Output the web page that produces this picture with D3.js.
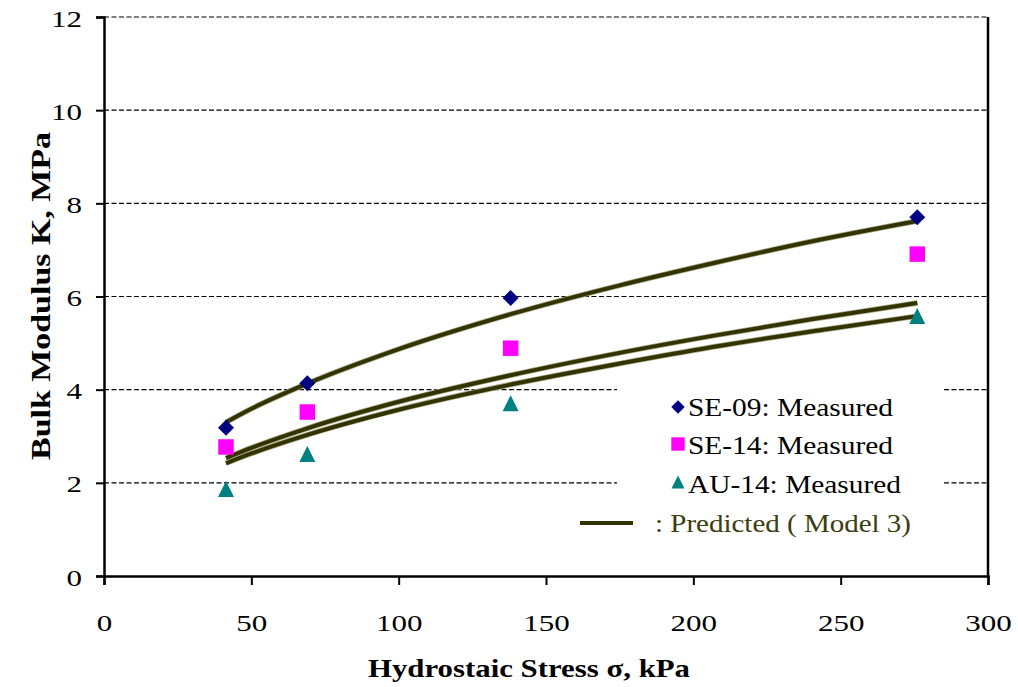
<!DOCTYPE html>
<html>
<head>
<meta charset="utf-8">
<script src="https://cdn.jsdelivr.net/npm/d3@7"></script>
<style>
  html, body { margin: 0; padding: 0; background: #fff; }
  svg { display: block; }
</style>
</head>
<body>
<script>
// Hydrostatic stress (kPa) at which the samples were tested
const stress = [41.4, 69, 138, 276];

// Measured bulk modulus K (MPa)
const se09 = [3.18, 4.14, 5.97, 7.70];
const se14 = [2.77, 3.52, 4.89, 6.91];
const au14 = [1.87, 2.62, 3.71, 5.58];

// Predicted (Model 3) curves
const predStress = [41.4, 50, 69, 100, 138, 175, 207, 240, 276];
const predSE09 = [3.30, 3.59, 4.13, 4.87, 5.62, 6.24, 6.72, 7.18, 7.62];
const predSE14 = [2.53, 2.75, 3.17, 3.74, 4.31, 4.79, 5.16, 5.51, 5.86];
const predAU14 = [2.42, 2.63, 3.03, 3.57, 4.11, 4.56, 4.92, 5.25, 5.58];

const xTicks = [0, 50, 100, 150, 200, 250, 300];
const yTicks = [0, 2, 4, 6, 8, 10, 12];

const legendLabels = ['SE-09: Measured', 'SE-14: Measured', 'AU-14: Measured'];
const predLabel = ': Predicted ( Model 3)';

const FONT = '"Liberation Serif", "Times New Roman", Tinos, serif';

const width = 1018, height = 687;
const margin = { left: 104, right: 30, top: 17, bottom: 111 };

const svg = d3.select('body').append('svg')
  .attr('width', width)
  .attr('height', height)
  .style('font-family', FONT);

const x = d3.scaleLinear().domain([0, 300]).range([margin.left, width - margin.right]);
const y = d3.scaleLinear().domain([0, 12]).range([height - margin.bottom, margin.top]);

// dashed grid lines
svg.append('g')
  .selectAll('line')
  .data(yTicks.filter(d => d > 0))
  .enter()
  .append('line')
  .attr('x1', x(0))
  .attr('x2', x(300))
  .attr('y1', d => y(d))
  .attr('y2', d => y(d))
  .attr('stroke', '#000')
  .attr('stroke-width', 1.2)
  .attr('stroke-dasharray', '5,2.5');

// right border
svg.append('line')
  .attr('x1', x(300)).attr('x2', x(300))
  .attr('y1', y(12)).attr('y2', y(0))
  .attr('stroke', '#000')
  .attr('stroke-width', 2.5);

// legend background (hides the grid behind it)
svg.append('rect')
  .attr('x', 617).attr('y', 376)
  .attr('width', 326).attr('height', 165)
  .attr('fill', '#fff');

// axes
const xAxis = d3.axisBottom(x).tickValues(xTicks).tickSize(9).tickPadding(29)
  .tickFormat(d3.format('d'));
const yAxis = d3.axisLeft(y).tickValues(yTicks).tickSize(8).tickPadding(14)
  .tickFormat(d3.format('d'));

const gx = svg.append('g')
  .attr('transform', `translate(0,${y(0)})`)
  .call(xAxis);
const gy = svg.append('g')
  .attr('transform', `translate(${x(0)},0)`)
  .call(yAxis);

[gx, gy].forEach(g => {
  g.attr('font-family', FONT);
  g.select('.domain').attr('stroke', '#000').attr('stroke-width', 2.5);
  g.selectAll('.tick line').attr('stroke', '#000').attr('stroke-width', 2);
  g.selectAll('.tick text')
    .attr('fill', '#000')
    .attr('font-size', 24)
    .attr('textLength', d => String(d).length * 15.5)
    .attr('lengthAdjust', 'spacingAndGlyphs');
});
gy.selectAll('.tick text').attr('dy', '0.38em');

// predicted curves
const line = d3.line()
  .x(d => x(d[0]))
  .y(d => y(d[1]))
  .curve(d3.curveMonotoneX);

[predSE09, predSE14, predAU14].forEach(vals => {
  const pts = predStress.map((s, i) => [s, vals[i]]);
  svg.append('path')
    .attr('d', line(pts))
    .attr('fill', 'none')
    .attr('stroke', '#a8a888')
    .attr('stroke-width', 5.5);
  svg.append('path')
    .attr('d', line(pts))
    .attr('fill', 'none')
    .attr('stroke', '#333300')
    .attr('stroke-width', 4);
});

// custom triangle (as wide as tall)
const tallTriangle = {
  draw(ctx, size) {
    const s = Math.sqrt(size);
    ctx.moveTo(0, -s / 2);
    ctx.lineTo(s / 2, s / 2);
    ctx.lineTo(-s / 2, s / 2);
    ctx.closePath();
  }
};

const series = [
  { vals: se09, color: '#000080', type: d3.symbolSquare, rot: 45, size: 128, lsize: 90 },
  { vals: se14, color: '#ff00ff', type: d3.symbolSquare, rot: 0, size: 240, lsize: 180 },
  { vals: au14, color: '#008080', type: tallTriangle, rot: 0, size: 256, lsize: 169 }
];

series.forEach(s => {
  svg.append('g')
    .selectAll('path')
    .data(stress.map((st, i) => [st, s.vals[i]]))
    .enter()
    .append('path')
    .attr('d', d3.symbol().type(s.type).size(s.size))
    .attr('transform', d => `translate(${x(d[0])},${y(d[1])}) rotate(${s.rot})`)
    .attr('fill', s.color);
});

// legend
const legendY = [407, 444, 482];
const textBase = [416, 454, 493];
const textW = [205, 205, 213];
series.forEach((s, i) => {
  svg.append('path')
    .attr('d', d3.symbol().type(s.type).size(s.lsize))
    .attr('transform', `translate(678,${legendY[i]}) rotate(${s.rot})`)
    .attr('fill', s.color);
  svg.append('text')
    .attr('x', 688)
    .attr('y', textBase[i])
    .attr('textLength', textW[i])
    .attr('lengthAdjust', 'spacingAndGlyphs')
    .attr('font-size', 26)
    .attr('fill', '#000')
    .text(legendLabels[i]);
});
svg.append('line')
  .attr('x1', 580).attr('x2', 633)
  .attr('y1', 523).attr('y2', 523)
  .attr('stroke', '#333300')
  .attr('stroke-width', 4);
svg.append('text')
  .attr('x', 655)
  .attr('y', 532)
  .attr('textLength', 256)
  .attr('lengthAdjust', 'spacingAndGlyphs')
  .attr('font-size', 26)
  .attr('fill', '#3d3d10')
  .text(predLabel);

// axis titles
svg.append('text')
  .attr('x', 368)
  .attr('y', 677)
  .attr('textLength', 322)
  .attr('lengthAdjust', 'spacingAndGlyphs')
  .attr('font-size', 26)
  .attr('font-weight', 'bold')
  .attr('fill', '#000')
  .text('Hydrostaic Stress  σ,  kPa');

svg.append('text')
  .attr('transform', 'translate(50,460) rotate(-90)')
  .attr('textLength', 328)
  .attr('lengthAdjust', 'spacingAndGlyphs')
  .attr('font-size', 27)
  .attr('font-weight', 'bold')
  .attr('fill', '#000')
  .text('Bulk Modulus K, MPa');
</script>
</body>
</html>
